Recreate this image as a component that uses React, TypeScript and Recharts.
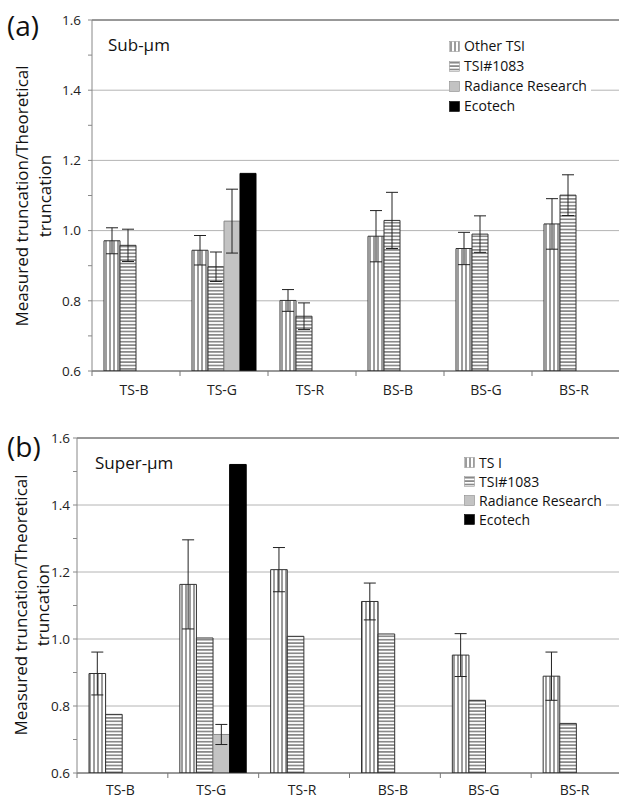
import React from "react";
import {
  Bar,
  BarChart,
  CartesianGrid,
  ErrorBar,
  Legend,
  ReferenceLine,
  XAxis,
  YAxis,
} from "recharts";

const FONT = "'Open Sans', 'DejaVu Sans', sans-serif";

const categories = ["TS-B", "TS-G", "TS-R", "BS-B", "BS-G", "BS-R"];

// (a) sub-µm
const subOther = [0.971, 0.944, 0.801, 0.984, 0.949, 1.019];
const subOtherErr = [0.037, 0.042, 0.031, 0.073, 0.046, 0.072];
const subTsi1083 = [0.958, 0.897, 0.756, 1.029, 0.99, 1.101];
const subTsi1083Err = [0.046, 0.042, 0.038, 0.08, 0.052, 0.058];
const subRadiance = [null, 1.027, null, null, null, null];
const subRadianceErr = [null, 0.091, null, null, null, null];
const subEcotech = [null, 1.163, null, null, null, null];

// (b) super-µm
const superTsi = [0.897, 1.163, 1.207, 1.112, 0.952, 0.889];
const superTsiErr = [0.064, 0.133, 0.066, 0.055, 0.064, 0.072];
const superTsi1083 = [0.775, 1.003, 1.008, 1.015, 0.817, 0.748];
const superTsi1083Err = [null, null, null, null, null, null];
const superRadiance = [null, 0.715, null, null, null, null];
const superRadianceErr = [null, 0.03, null, null, null, null];
const superEcotech = [null, 1.521, null, null, null, null];

const subNames = ["Other TSI", "TSI#1083", "Radiance Research", "Ecotech"];
const superNames = ["TS I", "TSI#1083", "Radiance Research", "Ecotech"];

const yTicks = [0.6, 0.7, 0.8, 0.9, 1.0, 1.1, 1.2, 1.3, 1.4, 1.5, 1.6];
const gridValues = [0.8, 1.0, 1.2, 1.4];

const makeRows = (
  other: (number | null)[],
  tsi: (number | null)[],
  rad: (number | null)[],
  eco: (number | null)[],
  otherErr: (number | null)[],
  tsiErr: (number | null)[],
  radErr: (number | null)[]
) =>
  categories.map((name, i) => ({
    name,
    other: other[i],
    tsi: tsi[i],
    rad: rad[i],
    eco: eco[i],
    otherErr: otherErr[i],
    tsiErr: tsiErr[i],
    radErr: radErr[i],
  }));

const subRows = makeRows(subOther, subTsi1083, subRadiance, subEcotech, subOtherErr, subTsi1083Err, subRadianceErr);
const superRows = makeRows(superTsi, superTsi1083, superRadiance, superEcotech, superTsiErr, superTsi1083Err, superRadianceErr);

const fills = ["url(#vstripe)", "url(#hstripe)", "#c3c3c3", "#000"];
const strokes = ["#333", "#333", "#8a8a8a", "#000"];

const YTick = (props: any) => {
  const { x, y, payload } = props;
  const major = Math.round(payload.value * 10) % 2 === 0;
  if (!major) return null;
  return (
    <text x={x} y={y} dy="0.35em" textAnchor="end" fontFamily={FONT} fontSize={13.5} fill="#222">
      {Number(payload.value).toFixed(1)}
    </text>
  );
};

const XTick = (props: any) => {
  const { x, y, payload, labelDy } = props;
  const half = payload.offset ?? 44;
  return (
    <g>
      <line x1={x - half} x2={x - half} y1={y} y2={y + 5} stroke="#777" />
      <text x={x - 2} y={y + labelDy} textAnchor="middle" fontFamily={FONT} fontSize={14} fill="#222">
        {payload.value}
      </text>
    </g>
  );
};

// legend is drawn from the series names so the order stays as in the figure
const LegendBox = ({ names, rowH }: any) => (
  <div style={{ background: "#fff", fontFamily: FONT, fontSize: 14, color: "#111", paddingRight: 4 }}>
    {names.map((n: string, i: number) => (
      <div key={n} style={{ display: "flex", alignItems: "center", height: rowH, lineHeight: rowH + "px" }}>
        <svg width={12} height={11} style={{ marginRight: 3 }}>
          <rect x={0.5} y={0.5} width={10} height={10} fill={fills[i]} stroke={i < 2 ? "#999" : strokes[i]} strokeWidth={0.6} />
        </svg>
        <span>{n}</span>
      </div>
    ))}
  </div>
);

const Panel = (props: any) => {
  const { rows, names, width, height, top, marginTop, yWidth, xHeight, tickMargin, barSize, labelDy, legendLeft, legendTop, rowH } = props;
  return (
    <div style={{ position: "absolute", left: 0, top }}>
      <BarChart
        width={width}
        height={height}
        data={rows}
        margin={{ top: marginTop, right: 4, bottom: 0, left: 0 }}
        barSize={barSize}
        barGap={0}
      >
        <CartesianGrid vertical={false} horizontalValues={gridValues} stroke="#b4b4b4" />
        <ReferenceLine y={1.6} stroke="#333" />
        <XAxis
          dataKey="name"
          height={xHeight}
          tickSize={0}
          tickMargin={0}
          tickLine={false}
          axisLine={{ stroke: "#333" }}
          tick={<XTick labelDy={labelDy} />}
          interval={0}
        />
        <YAxis
          width={yWidth}
          domain={[0.6, 1.6]}
          ticks={yTicks}
          allowDataOverflow
          interval={0}
          tickSize={4}
          tickMargin={tickMargin}
          tickLine={{ stroke: "#888" }}
          axisLine={{ stroke: "#888" }}
          tick={<YTick />}
        />
        <Legend
          layout="vertical"
          align="center"
          verticalAlign="middle"
          wrapperStyle={{ left: legendLeft, top: legendTop, width: "auto", height: "auto" }}
          content={<LegendBox names={names} rowH={rowH} />}
        />
        <Bar dataKey="other" name={names[0]} fill={fills[0]} stroke={strokes[0]} isAnimationActive={false}>
          <ErrorBar dataKey="otherErr" width={6} stroke="#222" strokeWidth={1} />
        </Bar>
        <Bar dataKey="tsi" name={names[1]} fill={fills[1]} stroke={strokes[1]} isAnimationActive={false}>
          <ErrorBar dataKey="tsiErr" width={6} stroke="#222" strokeWidth={1} />
        </Bar>
        <Bar dataKey="rad" name={names[2]} fill={fills[2]} stroke={strokes[2]} isAnimationActive={false}>
          <ErrorBar dataKey="radErr" width={6} stroke="#222" strokeWidth={1} />
        </Bar>
        <Bar dataKey="eco" name={names[3]} fill={fills[3]} stroke={strokes[3]} isAnimationActive={false} />
      </BarChart>
    </div>
  );
};

const App = () => {
  const txt = { fontFamily: FONT, fill: "#111" };
  return (
    <div style={{ position: "absolute", left: 0, top: 0, width: 619, height: 799, overflow: "hidden", background: "#fff" }}>
      <svg width={0} height={0} style={{ position: "absolute" }}>
        <defs>
          <pattern id="vstripe" patternUnits="userSpaceOnUse" width={4} height={10}>
            <rect width={4} height={10} fill="#fff" />
            <line x1={2} x2={2} y1={0} y2={10} stroke="#222" strokeWidth={0.9} />
          </pattern>
          <pattern id="hstripe" patternUnits="userSpaceOnUse" width={10} height={3.4}>
            <rect width={10} height={3.4} fill="#fff" />
            <line x1={0} x2={10} y1={1.7} y2={1.7} stroke="#222" strokeWidth={0.9} />
          </pattern>
        </defs>
      </svg>
      <Panel
        rows={subRows}
        names={subNames}
        width={624}
        height={400}
        top={0}
        marginTop={20}
        yWidth={92}
        xHeight={29}
        tickMargin={7}
        barSize={16}
        labelDy={24}
        legendLeft={449}
        legendTop={36}
        rowH={20}
      />
      <Panel
        rows={superRows}
        names={superNames}
        width={626}
        height={399}
        top={400}
        marginTop={38}
        yWidth={77}
        xHeight={26}
        tickMargin={3}
        barSize={16.6}
        labelDy={22}
        legendLeft={464}
        legendTop={53}
        rowH={19}
      />
      <svg width={619} height={799} style={{ position: "absolute", left: 0, top: 0, pointerEvents: "none" }}>
        <text x={7} y={36} fontSize={28} {...txt}>(a)</text>
        <text x={7} y={457} fontSize={28} {...txt}>(b)</text>
        <text x={108} y={51} fontSize={17} {...txt}>Sub-µm</text>
        <text x={95} y={469} fontSize={17} {...txt}>Super-µm</text>
        <g transform="translate(21,196) rotate(-90)">
          <text x={0} y={0} textAnchor="middle" dominantBaseline="central" fontSize={17} {...txt}>Measured truncation/Theoretical</text>
          <text x={0} y={23} textAnchor="middle" dominantBaseline="central" fontSize={17} {...txt}>truncation</text>
        </g>
        <g transform="translate(20,605) rotate(-90)">
          <text x={0} y={0} textAnchor="middle" dominantBaseline="central" fontSize={17} {...txt}>Measured truncation/Theoretical</text>
          <text x={0} y={22} textAnchor="middle" dominantBaseline="central" fontSize={17} {...txt}>truncation</text>
        </g>
      </svg>
    </div>
  );
};

export default App;
